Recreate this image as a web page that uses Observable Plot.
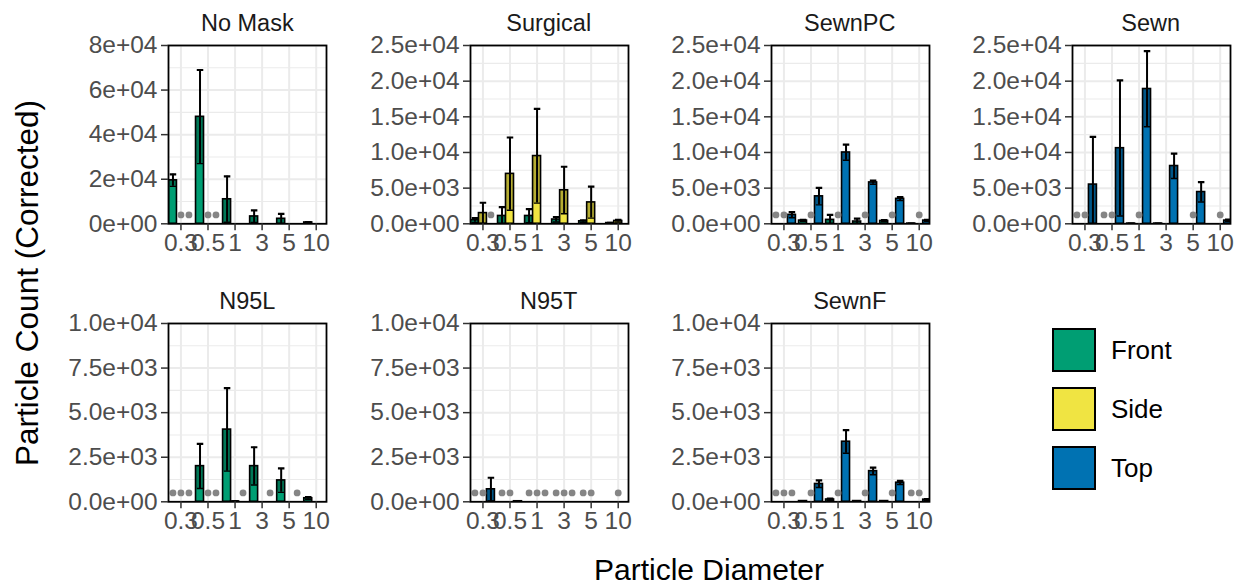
<!DOCTYPE html>
<html><head><meta charset="utf-8">
<script src="https://cdn.jsdelivr.net/npm/d3@7"></script>
<script src="https://cdn.jsdelivr.net/npm/@observablehq/plot@0.6"></script>
<style>
body{margin:0;background:#fff;}
#chart{position:relative;width:1242px;height:588px;overflow:hidden;font-family:"Liberation Sans",Arial,sans-serif;background:#fff;}
#chart svg{position:absolute;overflow:visible;}
</style></head><body><div id="chart"></div>
<script>
// ---------- data ----------
const diameters = ["0.3","0.5","1","3","5","10"];
const positions = ["Front","Side","Top"];
const positionColors = ["#009E73","#F0E442","#0072B2"];
const masks = ["No Mask","Surgical","SewnPC","Sewn","N95L","N95T","SewnF"];

const ticksNoMask = [0, 20000, 40000, 60000, 80000];
const labelsNoMask = ["0e+00","2e+04","4e+04","6e+04","8e+04"];
const ticks25k = [0, 5000, 10000, 15000, 20000, 25000];
const labels25k = ["0.0e+00","5.0e+03","1.0e+04","1.5e+04","2.0e+04","2.5e+04"];
const ticks10k = [0, 2500, 5000, 7500, 10000];
const labels10k = ["0.0e+00","2.5e+03","5.0e+03","7.5e+03","1.0e+04"];

// bars: [position, diameter, mean, sd]
const noMaskBars = [
  ["Front","0.3",19500,2700], ["Front","0.5",48000,21000], ["Front","1",11000,10300],
  ["Front","3",3300,2700], ["Front","5",2250,2200], ["Front","10",600,200]
];
const surgicalBars = [
  ["Front","0.3",500,300], ["Front","0.5",1100,1250], ["Front","1",1100,950],
  ["Front","3",600,350], ["Front","5",350,150], ["Front","10",100,50],
  ["Side","0.3",1500,1450], ["Side","0.5",7000,5100], ["Side","1",9500,6600],
  ["Side","3",4700,3300], ["Side","5",3000,2200], ["Side","10",400,150]
];
const sewnPCBars = [
  ["Front","0.5",450,100], ["Front","1",550,700], ["Front","3",320,400],
  ["Front","5",400,120], ["Front","10",30,0],
  ["Top","0.3",1250,400], ["Top","0.5",3850,1200], ["Top","1",10000,1100],
  ["Top","3",5800,250], ["Top","5",3500,250], ["Top","10",450,100]
];
const sewnBars = [
  ["Front","1",30,0], ["Front","3",30,0],
  ["Top","0.3",5500,6700], ["Top","0.5",10600,9500], ["Top","1",18900,5300],
  ["Top","3",8100,1750], ["Top","5",4450,1400], ["Top","10",450,150]
];
const n95LBars = [
  ["Front","0.5",2000,1250], ["Front","1",4050,2330], ["Front","3",2000,1060],
  ["Front","5",1200,670], ["Front","10",200,60], ["Side","1",20,0]
];
const n95TBars = [
  ["Top","0.3",700,650], ["Top","0.5",30,0]
];
const sewnFBars = [
  ["Front","0.5",40,0], ["Front","1",130,50], ["Front","3",40,0], ["Front","5",40,0],
  ["Top","0.5",1000,200], ["Top","1",3370,650], ["Top","3",1720,200],
  ["Top","5",1070,100], ["Top","10",120,30]
];

// zero readings (grey dots): [diameter, position]
const noMaskZeros = [["0.3","Side"],["0.3","Top"],["0.5","Side"],["0.5","Top"]];
const surgicalZeros = [["0.3","Top"]];
const sewnPCZeros = [["0.3","Front"],["0.3","Side"],["0.5","Side"],["1","Side"],["3","Side"],["5","Side"],["10","Side"]];
const sewnZeros = [["0.3","Front"],["0.3","Side"],["0.5","Front"],["0.5","Side"],["1","Side"],["5","Side"],["10","Side"]];
const n95LZeros = [["0.3","Front"],["0.3","Side"],["0.3","Top"],["0.5","Side"],["0.5","Top"],["1","Top"],["3","Top"],["5","Top"]];
const n95TZeros = [["0.3","Front"],["0.3","Side"],["0.5","Front"],["0.5","Side"],["1","Front"],["1","Side"],["1","Top"],
                   ["3","Front"],["3","Side"],["3","Top"],["5","Front"],["5","Side"],["10","Side"]];
const sewnFZeros = [["0.3","Front"],["0.3","Side"],["0.3","Top"],["0.5","Side"],["1","Side"],["3","Side"],["5","Side"],["10","Front"],["10","Side"]];

// ---------- layout ----------
const FONT = '"Liberation Sans", Arial, sans-serif';
const colLeft = [168.3, 469.7, 770.7, 1071.7];
const rowTop = [45, 322.5];
const PW = 158, PH = 178.3;
const ML = 110, MR = 8, MT = 6, MB = 40;
const offset = {Front: -0.295, Side: 0, Top: 0.295};
const barHalf = 0.1475, capHalf = 0.12;

const chart = d3.select("#chart");
const over = chart.append("svg").attr("width", 1242).attr("height", 588)
  .style("left", "0px").style("top", "0px").style("font-family", FONT);

const panels = [
  [noMaskBars, noMaskZeros, ticksNoMask, labelsNoMask],
  [surgicalBars, surgicalZeros, ticks25k, labels25k],
  [sewnPCBars, sewnPCZeros, ticks25k, labels25k],
  [sewnBars, sewnZeros, ticks25k, labels25k],
  [n95LBars, n95LZeros, ticks10k, labels10k],
  [n95TBars, n95TZeros, ticks10k, labels10k],
  [sewnFBars, sewnFZeros, ticks10k, labels10k]
];

panels.forEach(([bars, zeros, ticks, labels], k) => {
  const row = k < 4 ? 0 : 1, col = k < 4 ? k : k - 4;
  const left = colLeft[col], top = rowTop[row];
  const ymax = ticks[ticks.length - 1];
  const minors = ticks.slice(1).map((t, i) => (t + ticks[i]) / 2);
  const rows = bars.map(([pos, dia, mean, sd]) => ({
    pos, x: diameters.indexOf(dia) + offset[pos], mean,
    lo: Math.max(0, mean - sd), hi: mean + sd
  }));
  const dots = zeros.map(([dia, pos]) => ({x: diameters.indexOf(dia) + offset[pos]}));

  const p = Plot.plot({
    width: ML + PW + MR, height: MT + PH + MB,
    marginLeft: ML, marginRight: MR, marginTop: MT, marginBottom: MB,
    x: {domain: [-0.46, 5.38]},
    y: {domain: [0, ymax]},
    color: {domain: positions, range: positionColors},
    style: {fontFamily: FONT, background: "transparent", overflow: "visible"},
    marks: [
      Plot.gridY({ticks: minors, stroke: "#EBEBEB", strokeOpacity: 1, strokeWidth: 1.1}),
      Plot.gridY({ticks, stroke: "#EBEBEB", strokeOpacity: 1, strokeWidth: 2}),
      Plot.gridX({ticks: d3.range(diameters.length), stroke: "#EBEBEB", strokeOpacity: 1, strokeWidth: 2}),
      Plot.rect(rows, {x1: d => d.x - barHalf, x2: d => d.x + barHalf, y1: 0, y2: "mean",
        fill: "pos", stroke: "black", strokeWidth: 1.6, clip: true}),
      Plot.rect(rows.filter(d => d.mean > d.lo), {x1: d => d.x - barHalf, x2: d => d.x + barHalf,
        y1: "lo", y2: "mean", fill: "black", fillOpacity: 0.24, clip: true}),
      Plot.link(rows.filter(d => d.lo > 0), {x1: d => d.x - capHalf, x2: d => d.x + capHalf,
        y1: "lo", y2: "lo", stroke: "black", strokeWidth: 1.4, clip: true}),
      Plot.ruleX(rows, {x: "x", y1: "lo", y2: "hi", stroke: "black", strokeWidth: 2, clip: true}),
      Plot.link(rows, {x1: d => d.x - capHalf, x2: d => d.x + capHalf,
        y1: "hi", y2: "hi", stroke: "black", strokeWidth: 2.2, clip: true}),
      Plot.dot(dots, {x: "x", y: () => ymax * 0.05, r: 3.4, fill: "#858585", stroke: null}),
      Plot.frame({stroke: "black", strokeWidth: 1.8}),
      Plot.axisX({ticks: d3.range(diameters.length), tickFormat: i => diameters[i], label: null,
        tickSize: 7, tickPadding: 3, fontSize: 24.5, stroke: "#333", fill: "#4D4D4D", strokeWidth: 1.5}),
      Plot.axisY({ticks, tickFormat: d => labels[ticks.indexOf(d)], label: null,
        tickSize: 7, tickPadding: 4, fontSize: 24.5, stroke: "#333", fill: "#4D4D4D", strokeWidth: 1.5})
    ]
  });
  p.style.left = (left - ML) + "px";
  p.style.top = (top - MT) + "px";
  chart.node().appendChild(p);

  over.append("text").attr("x", left + PW / 2).attr("y", top - 13.8)
    .attr("text-anchor", "middle").attr("font-size", 23.5).attr("fill", "#1A1A1A")
    .text(masks[k]);
});

// axis titles
over.append("text").attr("x", 709).attr("y", 580).attr("text-anchor", "middle")
  .attr("font-size", 30).attr("fill", "black").text("Particle Diameter");
over.append("text").attr("transform", "translate(38,283) rotate(-90)").attr("text-anchor", "middle")
  .attr("font-size", 31.5).attr("fill", "black").text("Particle Count (Corrected)");

// legend
const legend = Plot.plot({
  width: 162, height: 195, marginLeft: 0, marginRight: 120, marginTop: 0, marginBottom: 0,
  x: {axis: null, domain: ["k"], padding: 0},
  y: {axis: null, domain: positions, padding: 0.285},
  color: {domain: positions, range: positionColors},
  style: {fontFamily: FONT, background: "transparent", overflow: "visible"},
  marks: [
    Plot.cell(positions, {x: () => "k", y: d => d, fill: d => d, stroke: "black", strokeWidth: 2, inset: 0}),
    Plot.text(positions, {x: () => "k", y: d => d, text: d => d, dx: 36.5, textAnchor: "start",
      fontSize: 26, fill: "black"})
  ]
});
legend.style.left = "1053px";
legend.style.top = "312.4px";
chart.node().appendChild(legend);
</script></body></html>
